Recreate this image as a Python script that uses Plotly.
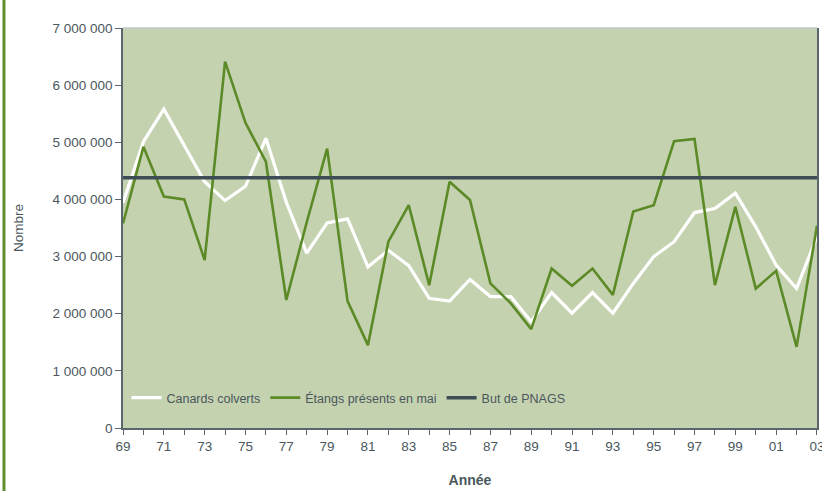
import plotly.graph_objects as go

years = list(range(1969, 2004))
canards = [3.94, 5.01, 5.58, 4.95, 4.31, 3.98, 4.23, 5.07, 3.95, 3.06, 3.59, 3.66,
           2.82, 3.11, 2.84, 2.27, 2.22, 2.60, 2.30, 2.30, 1.86, 2.37, 2.01, 2.37,
           2.01, 2.53, 3.00, 3.26, 3.77, 3.84, 4.11, 3.52, 2.85, 2.44, 3.35]
etangs = [3.58, 4.92, 4.05, 4.00, 2.94, 6.41, 5.34, 4.66, 2.24, 3.60, 4.89, 2.22,
          1.45, 3.26, 3.90, 2.50, 4.31, 3.99, 2.53, 2.18, 1.73, 2.79, 2.49, 2.79,
          2.33, 3.79, 3.90, 5.02, 5.06, 2.50, 3.87, 2.44, 2.75, 1.42, 3.54]
but_pnags = 4.38
canards = [v * 1e6 for v in canards]
etangs = [v * 1e6 for v in etangs]
goal = [but_pnags * 1e6] * len(years)

tick_text = [f"{y % 100:02d}" if (y - 1969) % 2 == 0 else "" for y in years]
y_ticks = [i * 1_000_000 for i in range(8)]

txt = "#4a575d"
font = "Liberation Sans"

fig = go.Figure()
fig.add_trace(go.Scatter(x=years, y=canards, mode="lines", name="Canards colverts",
                         line=dict(color="#ffffff", width=3.2)))
fig.add_trace(go.Scatter(x=years, y=etangs, mode="lines", name="Étangs présents en mai",
                         line=dict(color="#5b8a27", width=2.6)))
fig.add_trace(go.Scatter(x=years, y=goal, mode="lines", name="But de PNAGS",
                         line=dict(color="#3e4d55", width=3.5)))

fig.update_layout(
    width=822, height=491,
    margin=dict(l=123, r=5, t=28, b=63),
    paper_bgcolor="#ffffff",
    plot_bgcolor="#c5d2b0",
    separators=", ",
    font=dict(family=font, size=13, color=txt),
    showlegend=True,
    legend=dict(orientation="h", x=0.005, y=0.075, xanchor="left", yanchor="middle",
                bgcolor="rgba(0,0,0,0)", font=dict(size=12.5, color=txt),
                itemwidth=30, traceorder="normal"),
    xaxis=dict(range=[1968.999, 2003.001], tickmode="array", tickvals=years, ticktext=tick_text,
               ticks="outside", ticklen=5, tickcolor="#5a666b", showline=True,
               linecolor="#5a666b", linewidth=1.5, showgrid=False, zeroline=False,
               automargin=False, ticklabeloverflow="allow", tickfont=dict(size=13.5, color=txt),
               title=dict(text="<b>Année</b>", font=dict(size=14, color=txt), standoff=22)),
    yaxis=dict(range=[0, 7_000_000], tickmode="array", tickvals=y_ticks, tickformat=",d",
               ticks="outside", ticklen=6, tickcolor="#5a666b", showline=True, mirror=True,
               linecolor="#5a666b", linewidth=1.5, showgrid=False, zeroline=False,
               automargin=False, ticklabeloverflow="allow", tickfont=dict(size=13.5, color=txt),
               title=dict(text="Nombre", font=dict(size=13.5, color=txt), standoff=26)),
    shapes=[
        dict(type="line", xref="paper", yref="paper", x0=0, x1=1, y0=1, y1=1,
             line=dict(color="#c2c7c6", width=1.5)),
        dict(type="line", xref="paper", yref="paper", x0=-0.1715, x1=-0.1715, y0=-0.16, y1=1.08,
             line=dict(color="#5f8f30", width=3)),
    ],
)

fig.write_html("out.html", config={"displayModeBar": False},
               post_script="document.body.style.margin='0';document.body.style.overflow='hidden';")
